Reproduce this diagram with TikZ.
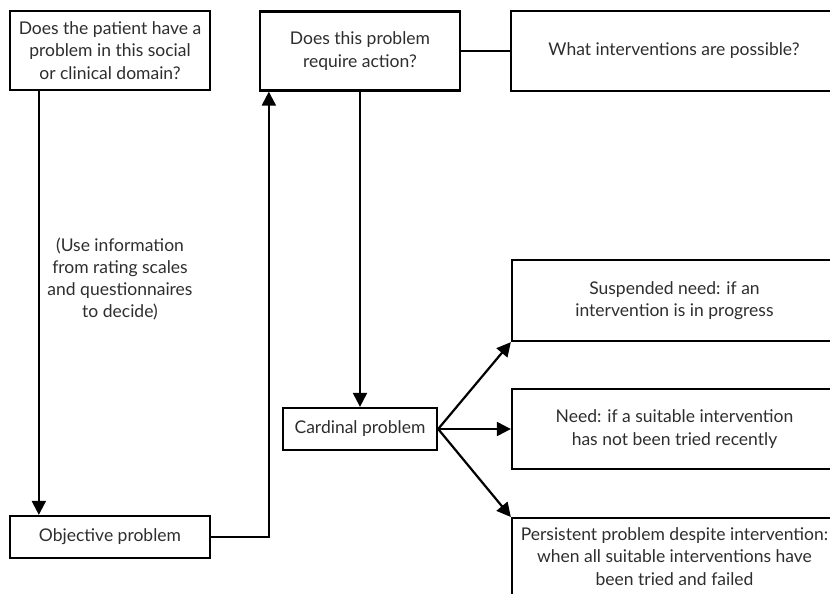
\documentclass[tikz,border=0pt]{standalone}
\usepackage{fontspec}
\setmainfont{Lato}
\usetikzlibrary{arrows.meta}
\definecolor{txt}{HTML}{2E2E2E}
\begin{document}
\begin{tikzpicture}[x=1pt,y=-1pt,
  box/.style={draw=black,line width=2.3pt,fill=white,align=center,inner sep=0pt,
    font=\fontsize{17.5}{22.5}\selectfont,text=txt},
  lbl/.style={align=center,inner sep=0pt,font=\fontsize{17.5}{22}\selectfont,text=txt},
  arr/.style={line width=2.2pt,-{Triangle[length=14pt,width=14pt]}},
  ln/.style={line width=2.2pt}]
\useasboundingbox (0,0) rectangle (830,594);
\clip (0,0) rectangle (830,594);
\node[box,minimum width=200pt,minimum height=79pt] (q1) at (110,50.5)
  {Does the patient have a\\problem in this social\\or clinical domain?};
\node[box,minimum width=200pt,minimum height=79pt] (q2) at (360,51)
  {Does this problem\\require action?};
\node[box,minimum width=326pt,minimum height=80pt] (q3) at (674,51)
  {What interventions are possible?};
\node[lbl] (note) at (120,279)
  {(Use information\\from rating scales\\and questionnaires\\to decide)};
\node[box,minimum width=200pt,minimum height=42pt] (obj) at (110,537)
  {Objective problem};
\node[box,minimum width=154pt,minimum height=42pt] (card) at (360,429)
  {Cardinal problem};
\node[box,minimum width=325pt,minimum height=81pt] (susp) at (674.5,300.5)
  {Suspended need: if an\\intervention is in progress};
\node[box,minimum width=325pt,minimum height=80pt] (need) at (674.5,429)
  {Need: if a suitable intervention\\has not been tried recently};
\node[box,minimum width=325pt,minimum height=95pt,anchor=north,text depth=70pt,inner ysep=0pt] (pers) at (674.5,517)
  {\rule{0pt}{22pt}Persistent problem despite intervention:\\when all suitable interventions have\\been tried and failed};
\draw[arr] ([xshift=30pt]q1.south west) -- ([xshift=30pt]obj.north west);
\draw[arr] (obj.east) -| ([xshift=10pt]q2.south west);
\draw[ln] (q2.east) -- (q3.west);
\draw[arr] (q2.south) -- (card.north);
\draw[arr] (card.east) -- (susp.south west);
\draw[arr] (card.east) -- (need.west);
\draw[arr] (card.east) -- (pers.north west);
\end{tikzpicture}
\end{document}
